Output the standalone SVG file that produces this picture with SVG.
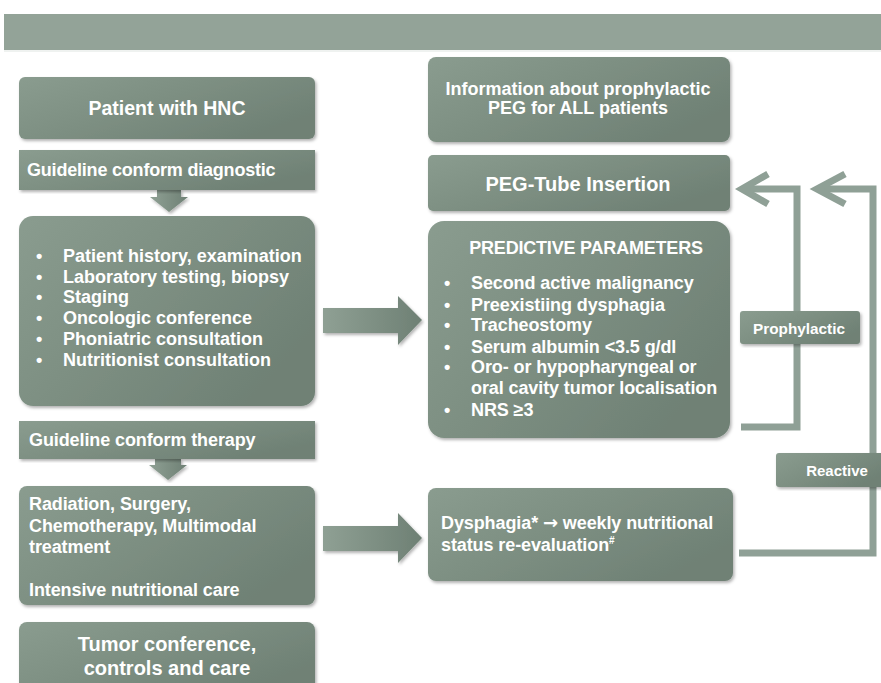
<svg xmlns="http://www.w3.org/2000/svg" width="881" height="683" viewBox="0 0 881 683">
<defs>
<linearGradient id="g" x1="0" y1="0" x2="1" y2="0.6">
<stop offset="0" stop-color="#8a9c8f"/>
<stop offset="0.5" stop-color="#7d8f82"/>
<stop offset="1" stop-color="#6f8175"/>
</linearGradient>
<linearGradient id="ga" x1="0" y1="0" x2="1" y2="0">
<stop offset="0" stop-color="#8fa094"/>
<stop offset="1" stop-color="#6e8074"/>
</linearGradient>
<filter id="sh" x="-5%" y="-5%" width="110%" height="115%">
<feDropShadow dx="1.5" dy="2" stdDeviation="1.5" flood-color="#000" flood-opacity="0.3"/>
</filter>
</defs>
<style>
.box{fill:url(#g);filter:url(#sh)}
.t{font-family:"Liberation Sans",Arial,sans-serif;font-weight:bold;fill:#fff}
.c{text-anchor:middle}
.ln{fill:none;stroke:#8fa096;stroke-width:7;stroke-linejoin:miter}
.ar{fill:url(#ga);filter:url(#sh)}
</style>
<rect x="0" y="0" width="881" height="683" fill="#fff"/>
<rect x="4" y="14" width="877" height="36" fill="#93a398"/>
<line x1="4" y1="51" x2="881" y2="51" stroke="#dfe5e1" stroke-width="1"/>

<g id="connectors">
<polyline class="ln" points="741,427 797,427 797,189 742,189"/>
<polyline class="ln" points="768,174 742,189 768,204"/>
<polyline class="ln" points="739,553 873,553 873,189 817,189"/>
<polyline class="ln" points="845,174 817,189 845,204"/>
<polygon class="ar" points="157,190 181,190 181,197 188,197 169,212 150,197 157,197"/>
<polygon class="ar" points="155,459 181,459 181,465 187,465 168,480 149,465 155,465"/>
<polygon class="ar" points="323,308 398,308 398,296 422,320 398,345 398,333 323,333"/>
<polygon class="ar" points="323,526 398,526 398,513 422,538 398,563 398,551 323,551"/>
</g>

<g id="patient">
<rect class="box" x="19" y="77" width="296" height="62" rx="6"/>
<text class="t c" x="167" y="115" font-size="19.5">Patient with  HNC</text>
</g>
<g id="diag-label">
<rect class="box" x="19" y="150" width="296" height="40"/>
<text class="t" x="27" y="176" font-size="18" letter-spacing="-0.2">Guideline conform diagnostic</text>
</g>
<g id="diagnostics">
<rect class="box" x="19" y="216" width="296" height="190" rx="14"/>
<g class="t" font-size="18" letter-spacing="0">
<text x="36" y="262">•</text><text x="63" y="262">Patient history, examination</text>
<text x="36" y="283">•</text><text x="63" y="283">Laboratory testing, biopsy</text>
<text x="36" y="303">•</text><text x="63" y="303">Staging</text>
<text x="36" y="324">•</text><text x="63" y="324">Oncologic conference</text>
<text x="36" y="345">•</text><text x="63" y="345">Phoniatric consultation</text>
<text x="36" y="366">•</text><text x="63" y="366">Nutritionist consultation</text>
</g>
</g>
<g id="ther-label">
<rect class="box" x="19" y="421" width="296" height="38"/>
<text class="t" x="29" y="446" font-size="18" letter-spacing="-0.1">Guideline conform therapy</text>
</g>
<g id="therapy">
<rect class="box" x="19" y="486" width="296" height="119" rx="8"/>
<g class="t" font-size="18" letter-spacing="-0.1">
<text x="29" y="510">Radiation, Surgery,</text>
<text x="29" y="532">Chemotherapy, Multimodal</text>
<text x="29" y="553">treatment</text>
<text x="29" y="596">Intensive nutritional care</text>
</g>
</g>
<g id="tumor">
<rect class="box" x="19" y="622" width="296" height="70" rx="8"/>
<text class="t c" x="167" y="651" font-size="20">Tumor conference,</text>
<text class="t c" x="167" y="675" font-size="20">controls and care</text>
</g>

<g id="info">
<rect class="box" x="428" y="57" width="302" height="85" rx="8"/>
<text class="t c" x="578" y="95" font-size="18" letter-spacing="0">Information about prophylactic</text>
<text class="t c" x="578" y="114" font-size="18" letter-spacing="0">PEG for ALL patients</text>
</g>
<g id="peg">
<rect class="box" x="428" y="155" width="302" height="56" rx="5"/>
<text class="t c" x="578" y="191" font-size="20">PEG-Tube Insertion</text>
</g>
<g id="predictive">
<rect class="box" x="428" y="221" width="302" height="217" rx="16"/>
<text class="t c" x="586" y="254" font-size="18" letter-spacing="-0.2">PREDICTIVE PARAMETERS</text>
<g class="t" font-size="18" letter-spacing="-0.1">
<text x="444" y="289">•</text><text x="471" y="289">Second active malignancy</text>
<text x="444" y="311">•</text><text x="471" y="311">Preexistiing dysphagia</text>
<text x="444" y="331">•</text><text x="471" y="331">Tracheostomy</text>
<text x="444" y="353">•</text><text x="471" y="353">Serum albumin &lt;3.5 g/dl</text>
<text x="444" y="373">•</text><text x="471" y="373">Oro- or hypopharyngeal or</text>
<text x="471" y="394">oral cavity tumor localisation</text>
<text x="444" y="416">•</text><text x="471" y="416">NRS ≥3</text>
</g>
</g>
<g id="dysphagia">
<rect class="box" x="428" y="488" width="305" height="93" rx="8"/>
<g class="t" font-size="18" letter-spacing="-0.1">
<text x="441" y="529">Dysphagia* <tspan font-family="'DejaVu Sans',sans-serif">→</tspan> weekly nutritional</text>
<text x="441" y="551">status re-evaluation<tspan font-size="10" dy="-7">#</tspan></text>
</g>
</g>
<g id="prophylactic">
<rect class="box" x="740" y="311" width="120" height="33" rx="3"/>
<text class="t c" x="799" y="334" font-size="15.3">Prophylactic</text>
</g>
<g id="reactive">
<rect class="box" x="776" y="453" width="110" height="34" rx="3"/>
<text class="t c" x="837" y="476" font-size="15">Reactive</text>
</g>
</svg>
